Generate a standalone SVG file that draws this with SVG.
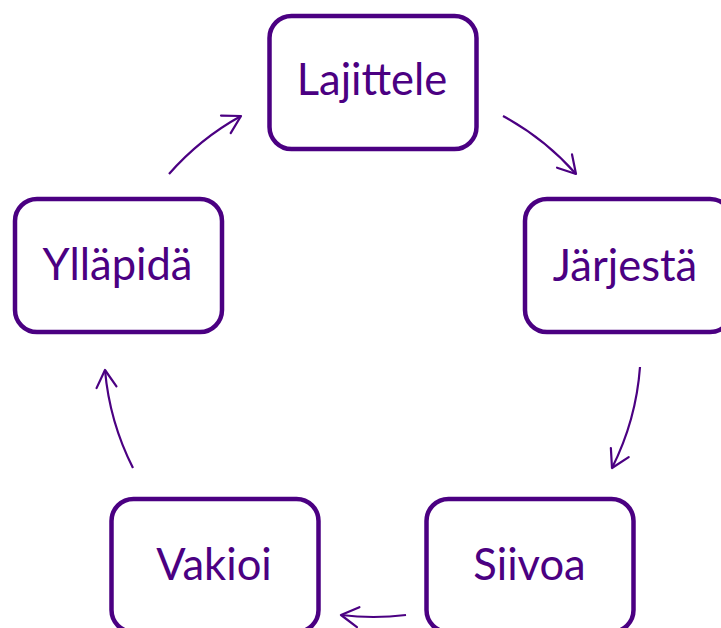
<svg xmlns="http://www.w3.org/2000/svg" width="721" height="628" viewBox="0 0 721 628">
<style>
.box{fill:#fff;stroke:#4B0082;stroke-width:4.5}
.lbl{font-family:Lato,"Liberation Sans",sans-serif;font-size:43.5px;fill:#4B0082;text-anchor:middle}
.arc{fill:none;stroke:#4B0082;stroke-width:2.2;marker-end:url(#ah)}
</style>
<defs>
<marker id="ah" markerUnits="userSpaceOnUse" markerWidth="30" markerHeight="30" refX="0" refY="0" viewBox="-20 -15 30 30" orient="auto" overflow="visible">
<path d="M-17.3,-10 L0,0 L-17.3,10" fill="none" stroke="#4B0082" stroke-width="2.2" stroke-linecap="round" stroke-linejoin="round"/>
</marker>
</defs>
<rect width="721" height="628" fill="#fff"/>
<g id="connectors">
<path class="arc" d="M169,174 A268,268 0 0 1 241,116"/>
<path class="arc" d="M503,116 A268,268 0 0 1 576,174"/>
<path class="arc" d="M640,367 A268,268 0 0 1 612,468"/>
<path class="arc" d="M406,615 A268,268 0 0 1 341,615"/>
<path class="arc" d="M133,468 A268,268 0 0 1 105,370"/>
</g>
<g id="lajittele"><rect class="box" x="269.5" y="16" width="207" height="133" rx="22"/><text class="lbl" x="372" y="95">Lajittele</text></g>
<g id="jarjesta"><rect class="box" x="525" y="199" width="207" height="133" rx="22"/><text class="lbl" x="625" y="281">Järjestä</text></g>
<g id="siivoa"><rect class="box" x="426.5" y="499" width="207" height="133" rx="22"/><text class="lbl" x="529.5" y="580">Siivoa</text></g>
<g id="vakioi"><rect class="box" x="111.5" y="499" width="207" height="133" rx="22"/><text class="lbl" x="214" y="580">Vakioi</text></g>
<g id="yllapida"><rect class="box" x="15" y="199" width="207" height="133" rx="22"/><text class="lbl" x="117.5" y="280">Ylläpidä</text></g>
</svg>
